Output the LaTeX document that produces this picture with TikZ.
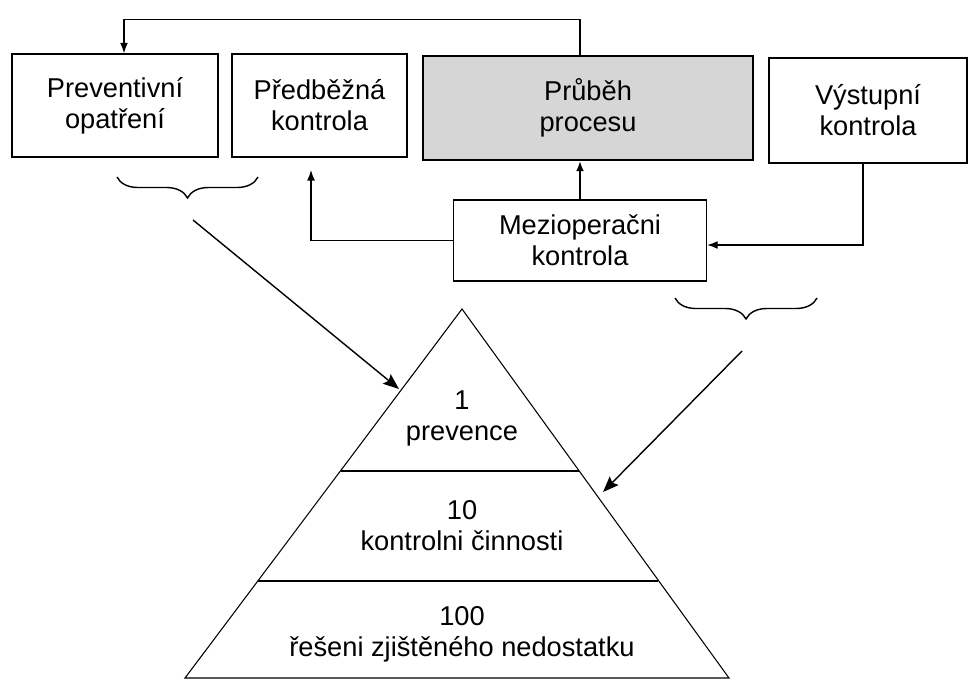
\documentclass[tikz,border=0pt]{standalone}
\usepackage{fontspec}
\setmainfont{Liberation Sans}
\usetikzlibrary{arrows.meta, positioning, decorations.pathreplacing, calc}

\begin{document}
\begin{tikzpicture}[
    x=0.02cm, y=-0.02cm,
    every node/.style={font=\fontsize{15.5}{17.6}\selectfont, align=center},
    box/.style={
      rectangle, draw=black, line width=0.8pt, inner sep=2pt
    },
    arr/.style={-{Latex[length=6pt, width=4.5pt]}, draw=black, line width=0.7pt},
    bigarr/.style={-{Stealth[length=9pt, width=7pt, inset=1.5pt]}, draw=black, line width=0.8pt},
    curly/.style={decorate, decoration={brace, amplitude=0.42cm}, draw=black, line width=0.8pt},
    layer/.style={draw=black, line width=0.6pt}
  ]
    \definecolor{procGray}{RGB}{214,214,214}

    % page
    \useasboundingbox (0,0) rectangle (969,680);

    % top row
    \node[box, minimum width=4.12cm, minimum height=2.06cm] (prev) at (115,105.5) {Preventivní\\opatření};
    \node[box, minimum width=3.50cm, minimum height=2.06cm] (pred) at (319.5,105.5) {Předběžná\\kontrola};
    \node[box, fill=procGray, minimum width=6.60cm, minimum height=2.08cm] (proc) at (588,108) {Průběh\\procesu};
    \node[box, minimum width=3.96cm, minimum height=2.10cm] (vyst) at (868,110.5) {Výstupní\\kontrola};

    % middle
    \node[box, minimum width=5.06cm, minimum height=1.62cm] (mezi) at (580,240.5) {Mezioperačni\\kontrola};

    % connectors
    \coordinate (topR) at (580,19.5);
    \coordinate (topL) at (124,19.5);
    \coordinate (predIn) at (311,170);
    \draw[arr] (proc.north -| topR) -- (topR) -- (topL) -- (prev.north -| topL);
    \draw[arr, line width=1.3pt] (mezi.north) -- (proc.south -| mezi.north);
    \draw[arr] (mezi.west) -| (predIn);
    \draw[arr] ([xshift=-0.1cm]vyst.south) |- ([yshift=-0.09cm]mezi.east);

    % braces
    \draw[curly] (258,177) -- (117,177);
    \draw[curly] (817,298) -- (675,298);

    % pyramid
    \coordinate (apex) at (462,309);
    \coordinate (baseL) at (185,678);
    \coordinate (baseR) at (729,678);
    \draw[layer] (apex) -- (baseL) -- (baseR) -- cycle;
    \draw[layer] (341,471) -- (579,471);
    \draw[layer] (258,581) -- (658,581);

    \node (lvlA) at (462,418) {1\\prevence};
    \node (lvlB) at (462,526) {10\\kontrolni činnosti};
    \node (lvlC) at (462,634) {100\\řešeni zjištěného nedostatku};

    \coordinate (fromL) at (193,220);
    \coordinate (toL) at (399,389);
    \coordinate (fromR) at (742,351);
    \coordinate (toR) at (603,492);
    \draw[bigarr] (fromL) -- (toL);
    \draw[bigarr] (fromR) -- (toR);
  \end{tikzpicture}
\end{document}
